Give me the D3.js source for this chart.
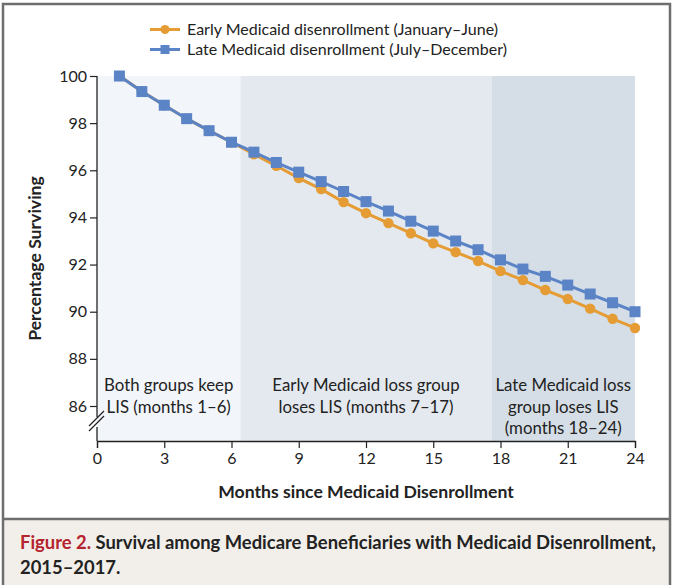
<!DOCTYPE html>
<html>
<head>
<meta charset="utf-8">
<script src="https://cdn.jsdelivr.net/npm/d3@7"></script>
<style>
  body { margin: 0; background: #fff; }
  svg text { font-family: Lato, "Open Sans", sans-serif; fill: #222; }
</style>
</head>
<body>
<div id="graf"></div>
<script>
const months = d3.range(1, 25)
const early = [100, 99.35, 98.76, 98.19, 97.68, 97.19, 96.68, 96.19, 95.67, 95.2, 94.65, 94.18,
    93.76, 93.33, 92.9, 92.53, 92.15, 91.72, 91.34, 90.92, 90.54, 90.13, 89.7, 89.31]
const late = [100, 99.34, 98.76, 98.19, 97.68, 97.19, 96.77, 96.33, 95.92, 95.52, 95.1, 94.67,
    94.27, 93.84, 93.42, 93.0, 92.63, 92.2, 91.81, 91.5, 91.13, 90.75, 90.38, 90.0]
const xTicks = [0, 3, 6, 9, 12, 15, 18, 21, 24]
const yTicks = [86, 88, 90, 92, 94, 96, 98, 100]
const phases = [
    { desde: 0, hasta: 6.4, color: '#f2f6fa', texto: ['Both groups keep', 'LIS (months 1\u20136)'] },
    { desde: 6.4, hasta: 17.6, color: '#e4e9ef', texto: ['Early Medicaid loss group', 'loses LIS (months 7\u201317)'] },
    { desde: 17.6, hasta: 24, color: '#d5dee6', texto: ['Late Medicaid loss', 'group loses LIS', '(months 18\u201324)'] },
]
const series = [
    { nombre: 'Early Medicaid disenrollment (January\u2013June)', valores: early, color: '#e59c34', forma: 'circle' },
    { nombre: 'Late Medicaid disenrollment (July\u2013December)', valores: late, color: '#5b84c6', forma: 'square' },
]

const anchoTotal = 673
const altoTotal = 585

const svg = d3.select('#graf').append('svg')
    .attr('width', anchoTotal)
    .attr('height', altoTotal)

// frame + caption band
svg.append('rect').attr('x', 3).attr('y', 519).attr('width', 667).attr('height', 70)
    .attr('fill', '#f2efea')
svg.append('rect').attr('x', 3).attr('y', 4).attr('width', 667).attr('height', 590)
    .attr('fill', 'none').attr('stroke', '#6e6e6e').attr('stroke-width', 2.5)
svg.append('line').attr('x1', 3).attr('x2', 670).attr('y1', 519).attr('y2', 519)
    .attr('stroke', '#6e6e6e').attr('stroke-width', 2.5)

const x = d3.scaleLinear().domain([0, 24]).range([97, 635])
const y = d3.scaleLinear().domain([86, 100]).range([406, 76])
const yBottom = 441

// shaded phases
svg.append('g').selectAll('rect')
    .data(phases)
    .join('rect')
    .attr('x', d => x(d.desde))
    .attr('width', d => x(d.hasta) - x(d.desde))
    .attr('y', y(100))
    .attr('height', yBottom - y(100))
    .attr('fill', d => d.color)

// phase labels
const lbl = svg.append('g').selectAll('text')
    .data(phases)
    .join('text')
    .attr('text-anchor', 'middle')
    .attr('font-size', 16.8)
lbl.selectAll('tspan')
    .data(d => d.texto.map(t => ({ t, cx: (x(d.desde) + x(d.hasta)) / 2 })))
    .join('tspan')
    .attr('x', d => d.cx)
    .attr('y', (d, i) => 391 + i * 21.5)
    .text(d => d.t)

// axes
const xAxis = svg.append('g')
    .attr('transform', `translate(0,${yBottom})`)
    .call(d3.axisBottom(x).tickValues(xTicks).tickSize(7).tickPadding(5))
xAxis.select('.domain').attr('stroke', '#222').attr('stroke-width', 1.3)
xAxis.selectAll('.tick line').attr('stroke', '#222').attr('stroke-width', 1.2)
xAxis.selectAll('text').attr('font-size', 16).attr('font-family', 'Lato, sans-serif').attr('fill', '#222')

const yAxis = svg.append('g')
    .attr('transform', `translate(${x(0)},0)`)
    .call(d3.axisLeft(y).tickValues(yTicks).tickSize(7).tickPadding(3))
yAxis.select('.domain').remove()
yAxis.selectAll('.tick line').attr('stroke', '#222').attr('stroke-width', 1.2)
yAxis.selectAll('text').attr('font-size', 16).attr('font-family', 'Lato, sans-serif').attr('fill', '#222')

// y axis line with break
const ax = x(0)
svg.append('line').attr('x1', ax).attr('x2', ax).attr('y1', y(100)).attr('y2', 417)
    .attr('stroke', '#222').attr('stroke-width', 1.3)
svg.append('line').attr('x1', ax).attr('x2', ax).attr('y1', 427).attr('y2', yBottom)
    .attr('stroke', '#222').attr('stroke-width', 1.3)
;[0, 5].forEach(o => {
    svg.append('line')
        .attr('x1', ax - 8).attr('y1', 426 + o)
        .attr('x2', ax + 7).attr('y2', 411 + o)
        .attr('stroke', '#222').attr('stroke-width', 1.2)
})

// lines and markers
const linea = d3.line().x((d, i) => x(months[i])).y(d => y(d))
series.forEach(s => {
    const g = svg.append('g')
    g.append('path').datum(s.valores)
        .attr('d', linea)
        .attr('fill', 'none')
        .attr('stroke', s.color)
        .attr('stroke-width', 3)
    if (s.forma === 'circle') {
        g.selectAll('circle').data(s.valores).join('circle')
            .attr('cx', (d, i) => x(months[i]))
            .attr('cy', d => y(d))
            .attr('r', 5.2)
            .attr('fill', s.color)
    } else {
        g.selectAll('rect').data(s.valores).join('rect')
            .attr('x', (d, i) => x(months[i]) - 5.5)
            .attr('y', d => y(d) - 5.5)
            .attr('width', 11)
            .attr('height', 11)
            .attr('fill', s.color)
    }
})

// legend
const leg = svg.append('g').selectAll('g')
    .data(series)
    .join('g')
    .attr('transform', (d, i) => `translate(150,${29.5 + i * 20})`)
leg.append('line').attr('x1', 0).attr('x2', 30).attr('stroke', d => d.color).attr('stroke-width', 3)
leg.filter(d => d.forma === 'circle').append('circle').attr('cx', 15).attr('r', 4.5).attr('fill', d => d.color)
leg.filter(d => d.forma === 'square').append('rect').attr('x', 10.5).attr('y', -4.5)
    .attr('width', 9).attr('height', 9).attr('fill', d => d.color)
leg.append('text').attr('x', 37).attr('y', 5.5).attr('font-size', 16).text(d => d.nombre)

// axis titles
svg.append('text')
    .attr('x', x(12)).attr('y', 498)
    .attr('text-anchor', 'middle')
    .attr('font-size', 17.6).attr('font-weight', 'bold')
    .text('Months since Medicaid Disenrollment')
svg.append('text')
    .attr('transform', `translate(41,${(y(100) + yBottom) / 2 + 0}) rotate(-90)`)
    .attr('text-anchor', 'middle')
    .attr('font-size', 17.6).attr('font-weight', 'bold')
    .text('Percentage Surviving')

// caption
const cap = svg.append('text').attr('x', 20).attr('y', 549)
    .attr('font-size', 18.4).attr('font-weight', 'bold')
cap.append('tspan').attr('fill', '#b5232e').text('Figure 2. ')
cap.append('tspan').text('Survival among Medicare Beneficiaries with Medicaid Disenrollment,')
svg.append('text').attr('x', 20).attr('y', 574)
    .attr('font-size', 18.4).attr('font-weight', 'bold')
    .text('2015\u20132017.')
</script>
</body>
</html>
